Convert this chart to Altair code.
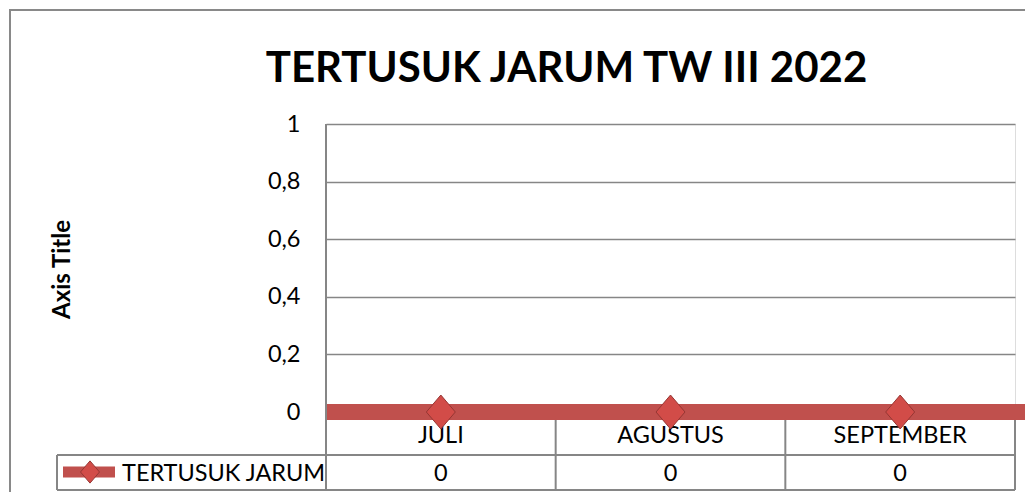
import altair as alt
import pandas as pd

# ---- data ----
months = ["JULI", "AGUSTUS", "SEPTEMBER"]
values = [0, 0, 0]
series_name = "TERTUSUK JARUM"
y_ticks = [0, 0.2, 0.4, 0.6, 0.8, 1]
chart_title = "TERTUSUK JARUM TW III 2022"
y_title = "Axis Title"

df = pd.DataFrame({"month": months, "value": values})
one = pd.DataFrame({"k": [0]})

W, H = 689, 288
FONT = "Lato"
GRAY = "#868686"
RED = "#C0504D"
ROW1, ROW2 = 331, 366  # bottom of category row, bottom of value row

x_enc = alt.X("month:N", sort=months, axis=None,
              scale=alt.Scale(type="point", padding=0.5))

y_axis = alt.Axis(
    values=y_ticks,
    labelExpr="replace(format(datum.value, '.1~f'), '.', ',')",
    ticks=False, domain=False,
    grid=True, gridColor=GRAY, gridWidth=1.5,
    labelFont=FONT, labelFontSize=23.5, labelColor="black", labelPadding=26,
    title=y_title, titleFont=FONT, titleFontSize=24, titleFontWeight="bold",
    titleColor="black", titleX=-264, titleY=145, titleAngle=270,
    titleAlign="center", titleBaseline="middle",
)
y_enc = alt.Y("value:Q", scale=alt.Scale(domain=[0, 1]), axis=y_axis)


def hline(x1, x2, y, w=2):
    return alt.Chart(one).mark_rule(color=GRAY, strokeWidth=w).encode(
        x=alt.value(x1), x2=alt.value(x2), y=alt.value(y))


def vline(x, y1, y2, w=2):
    return alt.Chart(one).mark_rule(color=GRAY, strokeWidth=w).encode(
        x=alt.value(x), y=alt.value(y1), y2=alt.value(y2))


border = alt.Chart(one).mark_rect(fillOpacity=0, stroke="#898989", strokeWidth=2).encode(
    x=alt.value(-316), x2=alt.value(730), y=alt.value(-114), y2=alt.value(420))

table = [
    hline(-269, W, ROW1),
    hline(-269, W, ROW2),
    vline(-269, ROW1, ROW2),
    vline(0, 0, ROW2),
    vline(W / 3, H, ROW2),
    vline(2 * W / 3, H, ROW2),
    vline(W, H, ROW2),
]

cat_text = alt.Chart(df).mark_text(font=FONT, fontSize=23.5, color="black",
                                   baseline="middle").encode(
    x=x_enc, y=alt.value(312), text="month:N")

val_text = alt.Chart(df).mark_text(font=FONT, fontSize=23.5, color="black",
                                   baseline="middle").encode(
    x=x_enc, y=alt.value(350), text="value:Q")

red_line = alt.Chart(df).mark_rule(color=RED, strokeWidth=16, strokeCap="butt").encode(
    y=y_enc, x=alt.value(1), x2=alt.value(704))

DIAMOND = "M0,-1.17L1,0L0,1.17L-1,0Z"
diamonds = alt.Chart(df).mark_point(shape=DIAMOND, filled=True, size=841,
                                    fill="#D24C48", stroke="#963633",
                                    strokeWidth=1, opacity=1).encode(
    x=x_enc, y=y_enc)

leg_line = alt.Chart(one).mark_rule(color=RED, strokeWidth=11, strokeCap="butt").encode(
    x=alt.value(-263), x2=alt.value(-211), y=alt.value(348))
leg_diamond = alt.Chart(one).mark_point(shape=DIAMOND, filled=True, size=361,
                                        fill="#D24C48", stroke="#963633",
                                        strokeWidth=1, opacity=1).encode(
    x=alt.value(-236), y=alt.value(348))
leg_text = alt.Chart(pd.DataFrame({"name": [series_name]})).mark_text(
    font=FONT, fontSize=23.5, color="black", align="left", baseline="middle").encode(
    x=alt.value(-204), y=alt.value(350), text="name:N")

chart = alt.layer(
    border, *table, cat_text, val_text, red_line, diamonds,
    leg_line, leg_diamond, leg_text,
).properties(
    width=W, height=H,
    title=alt.TitleParams(chart_title, font=FONT, fontSize=42, fontWeight="bold",
                          color="black", anchor="middle", frame="group",
                          dx=-104, offset=-115, baseline="alphabetic"),
    padding={"left": 318, "top": 116, "right": 10, "bottom": 80},
    autosize=alt.AutoSizeParams(type="none"),
).configure_view(stroke=None).configure(background="white")

chart.save("out.html", embed_options={"renderer": "svg", "actions": False})
